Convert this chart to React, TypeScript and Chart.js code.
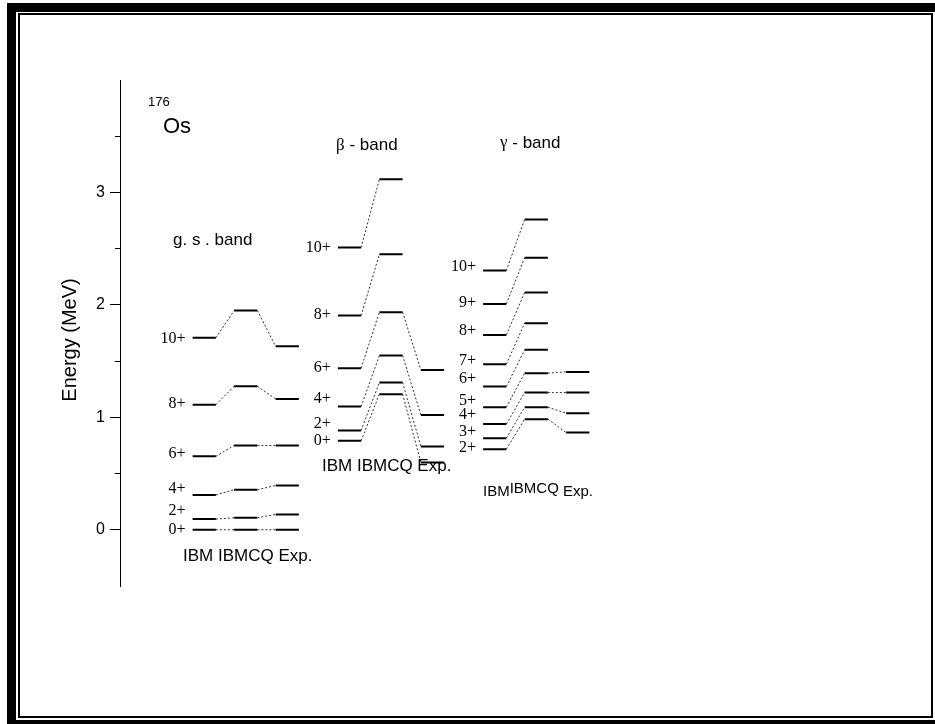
import React, { useEffect, useRef } from 'react';
import { Chart, registerables } from 'chart.js';

Chart.register(...registerables);

// 176Os level energies (MeV): IBM, IBM with CQ, and experiment
const gsSpins = ['0+', '2+', '4+', '6+', '8+', '10+'];
const gsIBM = [0, 0.095, 0.31, 0.653, 1.113, 1.707];
const gsIBMCQ = [0, 0.107, 0.356, 0.75, 1.276, 1.95];
const gsExp = [0, 0.136, 0.394, 0.75, 1.164, 1.632];
const gsTagE = [0, 0.168, 0.365, 0.675, 1.12, 1.7];

const betaSpins = ['0+', '2+', '4+', '6+', '8+', '10+'];
const betaIBM = [0.791, 0.883, 1.096, 1.437, 1.905, 2.51];
const betaIBMCQ = [1.206, 1.31, 1.55, 1.935, 2.45, 3.117];
const betaExp = [0.598, 0.74, 1.02, 1.422];
const betaTagE = [0.79, 0.945, 1.165, 1.44, 1.91, 2.51];

const gammaSpins = ['2+', '3+', '4+', '5+', '6+', '7+', '8+', '9+', '10+'];
const gammaIBM = [0.717, 0.815, 0.94, 1.09, 1.274, 1.473, 1.733, 2.009, 2.305];
const gammaIBMCQ = [0.984, 1.09, 1.22, 1.393, 1.6, 1.837, 2.11, 2.42, 2.76];
const gammaExp = [0.865, 1.037, 1.22, 1.404];
const gammaTagE = [0.728, 0.875, 1.025, 1.15, 1.345, 1.505, 1.77, 2.015, 2.34];

const yTickLabels = ['0', '1', '2', '3'];

// column layout along the hidden x scale
const BAR = 0.56;
const bands = [
  { x0: 1.75, spins: gsSpins, ibm: gsIBM, cq: gsIBMCQ, exp: gsExp, tags: gsTagE },
  { x0: 5.25, spins: betaSpins, ibm: betaIBM, cq: betaIBMCQ, exp: betaExp, tags: betaTagE },
  { x0: 8.75, spins: gammaSpins, ibm: gammaIBM, cq: gammaIBMCQ, exp: gammaExp, tags: gammaTagE },
];

const SANS = 'Liberation Sans, Arial, sans-serif';
const SERIF = 'Liberation Serif, Times New Roman, serif';

function buildDatasets() {
  const sets: any[] = [];
  bands.forEach((b) => {
    b.ibm.forEach((e, i) => {
      const pts = [
        { x: b.x0, y: e },
        { x: b.x0 + BAR, y: e },
        { x: b.x0 + 1, y: b.cq[i] },
        { x: b.x0 + 1 + BAR, y: b.cq[i] },
      ];
      if (i < b.exp.length) {
        pts.push({ x: b.x0 + 2, y: b.exp[i] }, { x: b.x0 + 2 + BAR, y: b.exp[i] });
      }
      sets.push({
        data: pts,
        showLine: true,
        pointRadius: 0,
        borderColor: '#000',
        borderWidth: 2,
        segment: {
          borderWidth: (c: any) => (c.p0DataIndex % 2 === 0 ? 2 : 1),
          borderDash: (c: any) => (c.p0DataIndex % 2 === 0 ? [] : [2, 2]),
          borderColor: (c: any) => (c.p0DataIndex % 2 === 0 ? '#000' : '#333'),
        },
      });
    });
  });
  return sets;
}

const decor = {
  id: 'decor',
  beforeDraw(chart: any) {
    const { ctx, width, height } = chart;
    ctx.save();
    ctx.fillStyle = '#fff';
    ctx.fillRect(0, 0, width, height);
    ctx.restore();
  },
  afterDraw(chart: any) {
    const { ctx, chartArea } = chart;
    const xs = chart.scales.x;
    const ys = chart.scales.y;
    const px = (v: number) => xs.getPixelForValue(v);
    const py = (v: number) => ys.getPixelForValue(v);
    ctx.save();
    ctx.fillStyle = '#000';
    ctx.textBaseline = 'middle';

    // axis title
    ctx.save();
    ctx.translate(70, (chartArea.top + chartArea.bottom) / 2 + 7);
    ctx.rotate(-Math.PI / 2);
    ctx.textAlign = 'center';
    ctx.font = `20px ${SANS}`;
    ctx.fillText('Energy (MeV)', 0, 0);
    ctx.restore();

    // spin tags left of the IBM levels
    ctx.font = `16px ${SERIF}`;
    ctx.textAlign = 'right';
    bands.forEach((b) => {
      b.spins.forEach((s, i) => {
        ctx.fillText(s, px(b.x0) - 7, py(b.tags[i]));
      });
    });

    ctx.textAlign = 'left';
    // nucleus
    ctx.font = `13px ${SANS}`;
    ctx.fillText('176', px(0.675), py(3.8));
    ctx.font = `22px ${SANS}`;
    ctx.fillText('Os', px(1.036), py(3.58));

    // band titles
    ctx.font = `17px ${SANS}`;
    ctx.fillText('g. s . band', px(1.277), py(2.578));
    const greek = (g: string, x: number, y: number) => {
      ctx.font = `17px ${SERIF}`;
      ctx.fillText(g, x, y);
      const w = ctx.measureText(g).width;
      ctx.font = `17px ${SANS}`;
      ctx.fillText(' - band', x + w, y);
    };
    greek('\u03B2', px(5.205), py(3.42));
    greek('\u03B3', px(9.157), py(3.44));

    // column captions
    ctx.font = `17px ${SANS}`;
    ctx.fillText('IBM IBMCQ Exp.', px(1.518), py(-0.24));
    ctx.fillText('IBM IBMCQ Exp.', px(4.867), py(0.56));
    ctx.font = `15px ${SANS}`;
    let gx = px(8.747);
    ctx.fillText('IBM', gx, py(0.338));
    gx += ctx.measureText('IBM').width;
    ctx.fillText('IBMCQ', gx, py(0.365));
    gx += ctx.measureText('IBMCQ ').width;
    ctx.fillText('Exp.', gx, py(0.338));

    // page frame
    ctx.fillRect(7, 3, 928, 9);
    ctx.fillRect(7, 3, 9, 721);
    ctx.fillRect(7, 720, 928, 4);
    ctx.strokeStyle = '#000';
    ctx.lineWidth = 2;
    ctx.strokeRect(19, 14, 913, 703);
    ctx.restore();
  },
};

export default function App() {
  const ref = useRef<HTMLCanvasElement | null>(null);

  useEffect(() => {
    if (!ref.current) return;
    Chart.defaults.font.family = SANS;
    const chart = new Chart(ref.current, {
      type: 'scatter',
      data: { datasets: buildDatasets() },
      options: {
        animation: false,
        responsive: false,
        maintainAspectRatio: false,
        events: [],
        layout: { padding: { left: 0, top: 80, right: 26.5, bottom: 138 } },
        plugins: { legend: { display: false }, tooltip: { enabled: false }, title: { display: false } },
        scales: {
          x: { type: 'linear', min: 0, max: 19, display: false },
          y: {
            type: 'linear',
            min: -0.5,
            max: 4,
            afterFit: (s: any) => {
              s.width = 120;
            },
            ticks: {
              stepSize: 0.5,
              color: '#000',
              padding: 5,
              font: { family: SANS, size: 16 },
              callback: (v: any) => {
                const t = String(v);
                return yTickLabels.includes(t) ? t : '';
              },
            },
            grid: {
              drawOnChartArea: false,
              drawTicks: true,
              tickLength: 10,
              tickWidth: 1,
              tickColor: (c: any) => {
                const v = c.tick ? c.tick.value : 0;
                return v < 0 || v > 3.6 ? 'rgba(0,0,0,0)' : '#000';
              },
              tickBorderDash: (c: any) => {
                const v = c.tick ? c.tick.value : 0;
                return Number.isInteger(v) ? [] : [0, 5, 5, 0];
              },
            },
            border: { display: true, color: '#000', width: 1 },
            title: { display: false },
          },
        },
      },
      plugins: [decor],
    });
    return () => chart.destroy();
  }, []);

  return (
    <div style={{ position: 'fixed', left: 0, top: 0, width: 935, height: 724, background: '#fff' }}>
      <canvas ref={ref} width={935} height={724} style={{ display: 'block' }} />
    </div>
  );
}
